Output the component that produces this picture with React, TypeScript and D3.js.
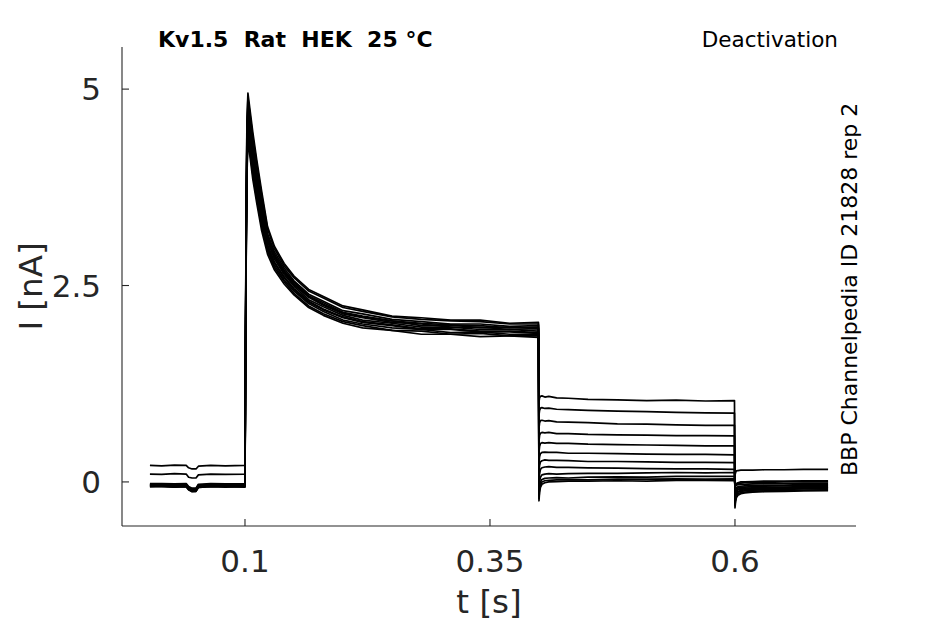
import React from 'react';
import * as d3 from 'd3';

// time grids (s)
const T_PRE = [0.003, 0.015, 0.028, 0.04, 0.0425, 0.046, 0.05, 0.0525, 0.065, 0.08, 0.0995];
const T_ACT = [0.1, 0.1004, 0.1012, 0.102, 0.103, 0.105, 0.108, 0.112, 0.117, 0.123, 0.13, 0.14, 0.15, 0.165, 0.18, 0.2, 0.22, 0.25, 0.28, 0.31, 0.34, 0.37, 0.3995];
const T_DEACT = [0.4, 0.4006, 0.4015, 0.403, 0.406, 0.41, 0.418, 0.43, 0.45, 0.48, 0.51, 0.54, 0.57, 0.5995];
const T_POST = [0.6, 0.6006, 0.6015, 0.603, 0.606, 0.61, 0.618, 0.63, 0.65, 0.67, 0.695];

// currents (nA), one row per sweep
const PRE_I = [
  [-0.04, -0.035, -0.045, -0.04, -0.08, -0.1, -0.1, -0.05, -0.04, -0.045, -0.04],
  [-0.05, -0.055, -0.045, -0.05, -0.09, -0.11, -0.11, -0.06, -0.05, -0.05, -0.055],
  [-0.03, -0.025, -0.035, -0.03, -0.07, -0.09, -0.09, -0.04, -0.03, -0.035, -0.03],
  [-0.06, -0.055, -0.065, -0.06, -0.1, -0.12, -0.12, -0.07, -0.06, -0.06, -0.065],
  [-0.045, -0.04, -0.04, -0.045, -0.08, -0.1, -0.1, -0.05, -0.045, -0.04, -0.04],
  [-0.05, -0.05, -0.055, -0.05, -0.09, -0.11, -0.105, -0.06, -0.05, -0.055, -0.05],
  [-0.03, -0.035, -0.03, -0.03, -0.07, -0.09, -0.09, -0.04, -0.035, -0.03, -0.03],
  [-0.06, -0.06, -0.065, -0.06, -0.1, -0.125, -0.12, -0.07, -0.06, -0.065, -0.06],
  [-0.04, -0.045, -0.04, -0.04, -0.08, -0.1, -0.095, -0.05, -0.04, -0.045, -0.04],
  [-0.02, -0.02, -0.025, -0.02, -0.06, -0.08, -0.08, -0.03, -0.02, -0.025, -0.02],
  [0.1, 0.095, 0.105, 0.1, 0.06, 0.05, 0.05, 0.09, 0.1, 0.095, 0.1],
  [0.21, 0.205, 0.215, 0.21, 0.18, 0.165, 0.165, 0.2, 0.21, 0.205, 0.21],
];

const ACT_I = [
  [-0.04, 1.15, 3.01, 4.11, 4.53, 4.33, 4.03, 3.72, 3.35, 3.0, 2.79, 2.6, 2.45, 2.29, 2.19, 2.09, 2.03, 1.99, 1.94, 1.94, 1.91, 1.91, 1.89],
  [-0.055, 1.3, 3.22, 4.32, 4.71, 4.51, 4.21, 3.88, 3.5, 3.11, 2.88, 2.68, 2.52, 2.36, 2.26, 2.15, 2.1, 2.05, 1.99, 2.0, 1.96, 1.97, 1.95],
  [-0.03, 1.05, 2.87, 3.97, 4.41, 4.21, 3.91, 3.6, 3.25, 2.94, 2.73, 2.55, 2.4, 2.24, 2.14, 2.04, 1.99, 1.93, 1.92, 1.88, 1.89, 1.86, 1.86],
  [-0.065, 1.45, 3.43, 4.53, 4.89, 4.69, 4.39, 4.05, 3.65, 3.22, 2.97, 2.75, 2.6, 2.43, 2.34, 2.22, 2.17, 2.1, 2.07, 2.05, 2.04, 2.01, 2.01],
  [-0.04, 1.23, 3.12, 4.22, 4.62, 4.42, 4.12, 3.8, 3.43, 3.06, 2.84, 2.64, 2.49, 2.32, 2.23, 2.12, 2.06, 2.02, 1.97, 1.97, 1.94, 1.94, 1.92],
  [-0.05, 1.1, 2.94, 4.04, 4.47, 4.27, 3.97, 3.66, 3.3, 2.97, 2.76, 2.57, 2.43, 2.27, 2.17, 2.06, 2.01, 1.96, 1.94, 1.9, 1.91, 1.88, 1.88],
  [-0.03, 1.38, 3.33, 4.43, 4.8, 4.6, 4.3, 3.96, 3.58, 3.16, 2.93, 2.72, 2.56, 2.39, 2.3, 2.18, 2.14, 2.07, 2.04, 2.01, 2.01, 1.98, 1.99],
  [-0.06, 1.0, 2.8, 3.9, 4.35, 4.15, 3.85, 3.55, 3.2, 2.9, 2.7, 2.52, 2.38, 2.22, 2.12, 2.02, 1.96, 1.93, 1.88, 1.88, 1.85, 1.86, 1.84],
  [-0.04, 1.28, 3.19, 4.29, 4.68, 4.48, 4.18, 3.85, 3.48, 3.09, 2.87, 2.66, 2.51, 2.35, 2.25, 2.14, 2.09, 2.03, 2.01, 1.97, 1.97, 1.94, 1.95],
  [-0.02, 1.5, 3.5, 4.6, 4.95, 4.75, 4.45, 4.1, 3.7, 3.25, 3.0, 2.78, 2.62, 2.45, 2.36, 2.24, 2.19, 2.11, 2.09, 2.06, 2.06, 2.02, 2.03],
  [0.1, 1.18, 3.05, 4.15, 4.56, 4.36, 4.06, 3.74, 3.38, 3.02, 2.8, 2.61, 2.46, 2.3, 2.2, 2.1, 2.04, 2.0, 1.95, 1.95, 1.92, 1.92, 1.9],
  [0.21, 1.33, 3.26, 4.36, 4.74, 4.54, 4.24, 3.91, 3.53, 3.13, 2.9, 2.69, 2.54, 2.37, 2.28, 2.16, 2.11, 2.05, 2.02, 2.0, 1.99, 1.96, 1.97],
];

const DEACT_I = [
  [1.02, 1.07, 1.09, 1.095, 1.08, 1.09, 1.07, 1.065, 1.05, 1.045, 1.035, 1.04, 1.03, 1.035],
  [0.85, 0.91, 0.94, 0.945, 0.935, 0.94, 0.925, 0.92, 0.91, 0.9, 0.895, 0.885, 0.88, 0.875],
  [0.68, 0.75, 0.78, 0.785, 0.775, 0.78, 0.765, 0.76, 0.755, 0.74, 0.735, 0.725, 0.72, 0.72],
  [0.52, 0.59, 0.62, 0.63, 0.625, 0.63, 0.615, 0.615, 0.605, 0.6, 0.595, 0.59, 0.59, 0.585],
  [0.38, 0.45, 0.49, 0.5, 0.495, 0.5, 0.49, 0.49, 0.48, 0.475, 0.47, 0.465, 0.46, 0.46],
  [0.24, 0.32, 0.36, 0.375, 0.38, 0.375, 0.375, 0.365, 0.365, 0.36, 0.355, 0.35, 0.35, 0.345],
  [0.12, 0.21, 0.255, 0.27, 0.28, 0.275, 0.275, 0.27, 0.26, 0.26, 0.255, 0.25, 0.25, 0.245],
  [0.0, 0.1, 0.16, 0.18, 0.19, 0.195, 0.185, 0.185, 0.18, 0.175, 0.17, 0.165, 0.165, 0.16],
  [-0.1, 0.0, 0.06, 0.09, 0.1, 0.105, 0.1, 0.105, 0.11, 0.11, 0.115, 0.12, 0.115, 0.12],
  [-0.17, -0.06, 0.0, 0.03, 0.045, 0.05, 0.055, 0.05, 0.06, 0.065, 0.06, 0.07, 0.07, 0.07],
  [-0.21, -0.1, -0.04, 0.0, 0.015, 0.02, 0.025, 0.03, 0.025, 0.035, 0.035, 0.04, 0.035, 0.04],
  [-0.24, -0.13, -0.07, -0.03, -0.01, 0.0, 0.005, 0.01, 0.01, 0.015, 0.01, 0.02, 0.02, 0.015],
];

const POST_I = [
  [-0.33, -0.25, -0.2, -0.17, -0.15, -0.14, -0.13, -0.125, -0.12, -0.115, -0.11],
  [-0.3, -0.23, -0.18, -0.15, -0.135, -0.13, -0.12, -0.115, -0.11, -0.105, -0.1],
  [-0.27, -0.2, -0.16, -0.13, -0.12, -0.115, -0.105, -0.1, -0.095, -0.09, -0.09],
  [-0.24, -0.17, -0.14, -0.12, -0.11, -0.1, -0.095, -0.09, -0.085, -0.08, -0.08],
  [-0.2, -0.15, -0.12, -0.1, -0.095, -0.09, -0.085, -0.08, -0.075, -0.07, -0.07],
  [-0.17, -0.13, -0.1, -0.09, -0.085, -0.08, -0.075, -0.07, -0.065, -0.06, -0.06],
  [-0.14, -0.11, -0.09, -0.075, -0.07, -0.065, -0.06, -0.055, -0.05, -0.045, -0.045],
  [-0.1, -0.08, -0.07, -0.06, -0.055, -0.05, -0.045, -0.04, -0.04, -0.035, -0.035],
  [-0.07, -0.05, -0.04, -0.035, -0.03, -0.03, -0.025, -0.02, -0.02, -0.015, -0.015],
  [-0.06, -0.04, -0.03, -0.02, -0.015, -0.01, -0.01, -0.005, 0.0, 0.005, 0.005],
  [-0.05, -0.03, -0.02, -0.01, 0.0, 0.0, 0.005, 0.01, 0.01, 0.015, 0.015],
  [0.08, 0.12, 0.14, 0.145, 0.15, 0.15, 0.15, 0.155, 0.155, 0.16, 0.16],
];

const X_TICKS = [0.1, 0.35, 0.6];
const Y_TICKS = [0, 2.5, 5];
const X_DOMAIN = [-0.0255, 0.7235];
const Y_DOMAIN = [-0.561, 5.536];

const TITLE = 'Kv1.5  Rat  HEK  25 °C';
const PROTOCOL = 'Deactivation';
const SOURCE = 'BBP Channelpedia ID 21828 rep 2';

export default function App() {
  const W = 945;
  const H = 624;
  const left = 122, right = 856, top = 47, bottom = 526;
  const x = d3.scaleLinear().domain(X_DOMAIN).range([left, right]);
  const y = d3.scaleLinear().domain(Y_DOMAIN).range([bottom, top]);
  const line = d3.line<[number, number]>().x((d) => x(d[0])).y((d) => y(d[1]));
  const axisColor = '#262626';
  const font = 'DejaVu Sans';

  const traces = PRE_I.map((_, i) => {
    const pts: [number, number][] = [];
    T_PRE.forEach((t, j) => pts.push([t, PRE_I[i][j]]));
    T_ACT.forEach((t, j) => pts.push([t, ACT_I[i][j]]));
    T_DEACT.forEach((t, j) => pts.push([t, DEACT_I[i][j]]));
    T_POST.forEach((t, j) => pts.push([t, POST_I[i][j]]));
    return pts;
  });

  return (
    <svg width={W} height={H} style={{ position: 'absolute', left: 0, top: 0, background: '#fff' }}>
      <rect width={W} height={H} fill="#fff" />
      <g fill="none" stroke="#000" strokeWidth={1.7} strokeLinejoin="round">
        {traces.map((pts, i) => (
          <path key={i} d={line(pts) || ''} />
        ))}
      </g>
      {/* axes */}
      <g stroke={axisColor} strokeWidth={1.1} fill="none">
        <line x1={left} y1={bottom} x2={right} y2={bottom} />
        <line x1={left} y1={top} x2={left} y2={bottom} />
        {X_TICKS.map((t) => (
          <line key={'xt' + t} x1={x(t)} x2={x(t)} y1={bottom} y2={bottom - 7} />
        ))}
        {Y_TICKS.map((t) => (
          <line key={'yt' + t} x1={left} x2={left + 7} y1={y(t)} y2={y(t)} />
        ))}
      </g>
      <g fill={axisColor} fontFamily={font} fontSize={31}>
        {X_TICKS.map((t) => (
          <text key={'xl' + t} x={x(t)} y={572} textAnchor="middle">
            {String(t)}
          </text>
        ))}
        {Y_TICKS.map((t) => (
          <text key={'yl' + t} x={101} y={y(t) + 11.3} textAnchor="end">
            {String(t)}
          </text>
        ))}
      </g>
      <g fill={axisColor} fontFamily={font} fontSize={32.5}>
        <text x={(left + right) / 2} y={613} textAnchor="middle">t [s]</text>
        <text transform={`translate(42, ${(top + bottom) / 2}) rotate(-90)`} textAnchor="middle">I [nA]</text>
      </g>
      <text x={158} y={47} fontFamily={font} fontSize={22} fontWeight="bold" fill="#000" style={{ whiteSpace: 'pre' }}>
        {TITLE}
      </text>
      <text x={838} y={47} fontFamily={font} fontSize={21.5} textAnchor="end" fill="#000">
        {PROTOCOL}
      </text>
      <text transform="translate(857, 476) rotate(-90)" fontFamily={font} fontSize={22} fill="#000">
        {SOURCE}
      </text>
    </svg>
  );
}
